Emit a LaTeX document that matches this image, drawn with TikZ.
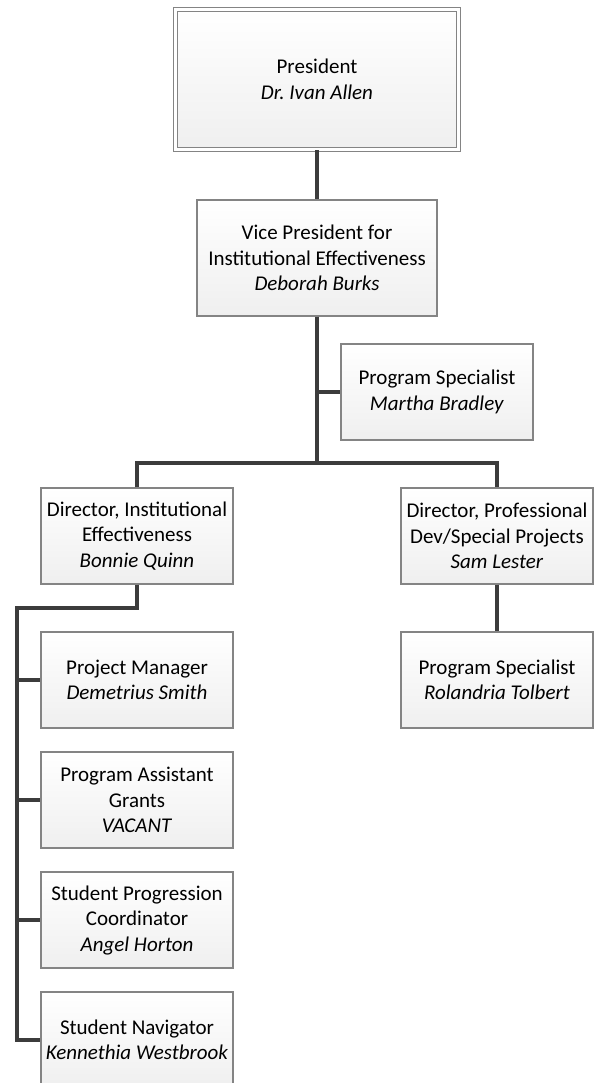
\documentclass[tikz,border=0pt]{standalone}
\usepackage{fontspec}
\setmainfont{Carlito}
\frenchspacing
\definecolor{boxline}{RGB}{132,132,132}
\definecolor{boxbot}{RGB}{239,239,239}
\definecolor{conn}{RGB}{60,60,60}
\begin{document}
\begin{tikzpicture}[x=1pt,y=-1pt,
  box/.style={draw=boxline, line width=1.4pt, top color=white, bottom color=boxbot,
    minimum width=192pt, minimum height=96pt, inner sep=0pt, align=center,
    font=\fontsize{21}{25.5}\selectfont},
  link/.style={draw=conn, line width=3.2pt, line join=miter}]
\useasboundingbox (0,0) rectangle (595,1083);
\begin{scope}
\clip (0,0) rectangle (595,1083);
\node[box, minimum width=283pt, minimum height=140pt, line width=1.3pt, double=white, double distance=2.6pt] (pres) at (317,79.5) {President\\\textit{Dr. Ivan Allen}};
\node[box, minimum width=240pt, minimum height=116pt] (vp) at (317,258) {Vice President for\\Institutional Effectiveness\\\textit{Deborah Burks}};
\node[box] (mar) at (437,392) {Program Specialist\\\textit{Martha Bradley}};
\node[box] (dirIE) at (137,536) {Director, Institutional\\Effectiveness\\\textit{Bonnie Quinn}};
\node[box] (dirPD) at (497,536) {Director, Professional\\Dev/Special Projects\\\textit{Sam Lester}};
\node[box] (rol) at (497,680) {Program Specialist\\\textit{Rolandria Tolbert}};
\node[box] (pm) at (137,680) {Project Manager\\\textit{Demetrius Smith}};
\node[box] (pa) at (137,800) {Program Assistant\\Grants\\\textit{VACANT}};
\node[box] (spc) at (137,920) {Student Progression\\Coordinator\\\textit{Angel Horton}};
\node[box] (nav) at (137,1040) {Student Navigator\\\textit{Kennethia Westbrook}};
\coordinate (bus) at (317,463);
\coordinate (spine) at (17,608);
\draw[link] (pres.south) -- (vp.north);
\draw[link] (vp.south) -- (bus);
\draw[link] (vp.south |- mar.west) -- (mar.west);
\draw[link] (dirIE.north) |- (bus) -| (dirPD.north);
\draw[link] (dirPD.south) -- (rol.north);
\draw[link] (dirIE.south) |- (spine) |- (nav.west);
\draw[link] (spine |- pm.west) -- (pm.west);
\draw[link] (spine |- pa.west) -- (pa.west);
\draw[link] (spine |- spc.west) -- (spc.west);
\end{scope}
\end{tikzpicture}
\end{document}
